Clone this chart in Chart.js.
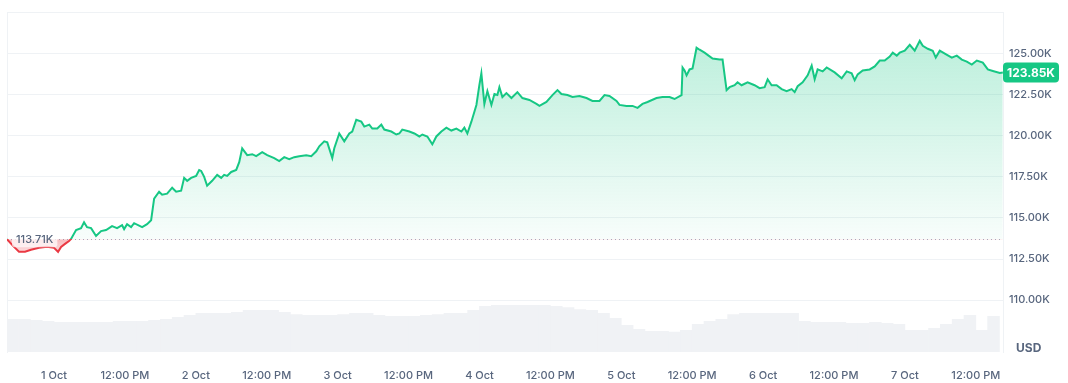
<!DOCTYPE html>
<html><head><meta charset="utf-8">
<script src="https://cdn.jsdelivr.net/npm/chart.js@4.4.1/dist/chart.umd.min.js"></script>
<style>html,body{margin:0;padding:0;background:#fff;}#wrap{width:1068px;height:383px;position:relative;}</style>
</head><body><div id="wrap"><canvas id="c"></canvas></div>
<script>
// time axis: hours since 1 Oct 00:00
const hours = [-7.96,-6.94,-5.93,-4.91,-3.90,-2.54,-1.19,0,0.68,1.19,1.86,2.54,2.88,3.73,4.57,5.08,5.59,6.27,7.11,7.96,8.81,9.82,10.67,11.52,11.86,12.36,13.04,13.55,14.91,15.75,16.43,16.94,17.78,18.29,19.14,19.99,20.66,21.51,22.02,22.53,23.20,24.05,24.56,24.90,25.41,25.91,26.76,27.61,28.29,28.79,29.30,29.98,30.83,31.34,31.84,32.69,33.54,34.21,35.23,36.08,37.26,38.11,38.96,39.80,40.65,41.50,42.68,43.53,44.38,44.89,45.73,46.24,47.09,47.43,48.27,49.12,49.97,50.47,51.15,52.00,52.51,53.35,53.86,54.71,55.39,55.89,57.08,57.93,58.43,58.94,60.13,60.98,61.82,62.33,63.18,64.02,64.70,65.55,66.40,67.24,68.09,68.94,69.44,69.95,70.63,71.14,71.48,71.98,72.32,72.83,73.34,74.02,74.53,75.03,75.37,75.88,76.56,77.41,78.42,79.27,80.45,81.64,82.15,83.33,84.35,85.20,85.87,86.89,87.74,88.92,90.11,91.12,92.31,93.16,94.00,95.19,95.70,96.88,97.90,98.75,99.59,100.44,101.96,102.98,104.17,105.01,106.20,106.37,106.71,107.05,107.55,108.06,108.74,109.25,110.09,110.77,111.45,112.64,113.14,113.82,114.33,115.18,115.68,116.36,117.38,118.56,119.41,120.26,120.77,121.44,122.29,123.14,123.98,124.83,125.34,125.85,126.69,127.54,128.22,128.73,129.23,130.08,130.76,132.11,133.30,134.15,134.99,135.50,136.01,136.86,138.04,138.89,139.74,140.58,141.43,141.94,142.62,143.12,143.97,144.82,145.66,146.51,147.02,147.87,148.71,149.22,149.90,150.75,151.93,152.78,153.63,154.47,155.32,156.17,157.18,158.03,158.88,160.06,160.57];
const prices = [113710,113300,112940,112940,113060,113180,113240,113180,112940,113240,113420,113600,113720,114260,114380,114740,114440,114380,113900,114200,114260,114500,114380,114560,114320,114620,114440,114680,114440,114620,114860,116180,116600,116420,116480,116840,116600,116660,117440,117260,117440,117560,117920,117860,117500,116960,117260,117620,117440,117620,117560,117800,117920,118400,119240,118820,118880,118760,119000,118820,118640,118460,118700,118580,118700,118760,118820,118760,119060,119360,119660,119600,118640,119240,120140,119660,120140,120260,120980,120860,120560,120680,120440,120440,120680,120380,120260,120080,120140,120380,120260,120140,119960,120080,119960,119480,119960,120260,120500,120320,120440,120260,120500,120140,120860,121460,121880,123080,123800,121940,122720,121880,122540,122480,122960,122360,122600,122300,122660,122300,122180,121940,121820,122060,122480,122780,122540,122480,122360,122420,122300,122120,122120,122480,122420,122120,121880,121820,121820,121700,121940,122060,122300,122360,122360,122240,122480,124160,123980,123680,124040,124100,125360,125240,125060,124880,124700,124640,124640,122780,122960,123080,123260,123080,123260,123080,122900,122960,123440,123080,123080,122840,122720,122840,122660,123020,123260,123680,124280,123440,124040,123920,124160,123860,123500,123920,123800,123380,123740,123980,124040,124220,124580,124580,124820,125060,124880,125060,125180,125540,125180,125780,125480,125300,125180,124760,125180,125000,124760,124880,124640,124520,124340,124580,124460,124040,123950,123820,123850];
const volHours = [-7,-5,-3,-1,1,3,5,7,9,11,13,15,17,19,21,23,25,27,29,31,33,35,37,39,41,43,45,47,49,51,53,55,57,59,61,63,65,67,69,71,73,75,77,79,81,83,85,87,89,91,93,95,97,99,101,103,105,107,109,111,113,115,117,119,121,123,125,127,129,131,133,135,137,139,141,143,145,147,149,151,153,155,157,159];
const volumesB = [2.36,2.36,2.29,2.21,2.14,2.14,2.14,2.14,2.14,2.21,2.21,2.21,2.29,2.36,2.50,2.64,2.79,2.79,2.79,2.86,3.00,3.00,3.00,2.86,2.71,2.64,2.64,2.64,2.71,2.79,2.79,2.64,2.57,2.57,2.57,2.64,2.71,2.79,2.79,3.00,3.29,3.36,3.36,3.36,3.36,3.36,3.29,3.21,3.07,3.00,2.79,2.43,1.93,1.64,1.50,1.50,1.43,1.57,2.00,2.21,2.36,2.71,2.79,2.79,2.79,2.79,2.79,2.21,2.14,2.14,2.14,2.07,2.07,2.14,2.07,2.00,1.57,1.57,1.71,2.00,2.36,2.64,1.57,2.57];
const xTickHours = [0,12,24,36,48,60,72,84,96,108,120,132,144,156];
const dayLabels = ['1 Oct','2 Oct','3 Oct','4 Oct','5 Oct','6 Oct','7 Oct'];
const yTickValues = [110000,112500,115000,117500,120000,122500,125000,127500];
const BASELINE = 113710;
const LAST_PRICE = 123850;

const GREEN = '#16c784', RED = '#ea3943', TXT = '#58667e', GRID = '#eff2f5';
Chart.defaults.font.family = 'Inter, "Noto Sans", sans-serif';

function lineGrad(c){
  const ca=c.chartArea; if(!ca) return GREEN;
  const y=c.scales.y.getPixelForValue(BASELINE);
  const f=Math.min(1,Math.max(0,(y-ca.top)/(ca.bottom-ca.top)));
  const g=c.ctx.createLinearGradient(0,ca.top,0,ca.bottom);
  g.addColorStop(0,GREEN);g.addColorStop(f,GREEN);g.addColorStop(f,RED);g.addColorStop(1,RED);
  return g;
}
function aboveGrad(c){
  const ca=c.chartArea; if(!ca) return 'rgba(22,199,132,0.15)';
  const y=c.scales.y.getPixelForValue(BASELINE);
  const g=c.ctx.createLinearGradient(0,ca.top,0,y);
  g.addColorStop(0,'rgba(22,199,132,0.32)');g.addColorStop(1,'rgba(22,199,132,0.03)');
  return g;
}
function belowGrad(c){
  const ca=c.chartArea; if(!ca) return 'rgba(234,57,67,0.15)';
  const y=c.scales.y.getPixelForValue(BASELINE);
  const g=c.ctx.createLinearGradient(0,y,0,y+22);
  g.addColorStop(0,'rgba(234,57,67,0.35)');g.addColorStop(1,'rgba(234,57,67,0.05)');
  return g;
}

const overlay = {
  id:'overlay',
  beforeDatasetsDraw(chart){
    const {ctx,chartArea:ca}=chart; const y=chart.scales.y.getPixelForValue(BASELINE);
    ctx.save();ctx.strokeStyle='#a6b0c3';ctx.lineWidth=1;ctx.setLineDash([1,3]);
    ctx.beginPath();ctx.moveTo(ca.left,Math.round(y)+0.5);ctx.lineTo(ca.right,Math.round(y)+0.5);ctx.stroke();ctx.restore();
  },
  afterDatasetsDraw(chart){
    const {ctx,chartArea:ca}=chart; const y=chart.scales.y.getPixelForValue(BASELINE);
    ctx.save();
    ctx.font='500 11px Inter';
    const t=(BASELINE/1000).toFixed(2)+'K'; const w=ctx.measureText(t).width;
    ctx.fillStyle='rgba(255,255,255,0.7)';
    ctx.beginPath();ctx.roundRect(ca.left+5,y-8,w+8,16,3);ctx.fill();
    ctx.fillStyle=TXT;ctx.textBaseline='middle';ctx.textAlign='left';
    ctx.fillText(t,ca.left+9,y+1);
    ctx.restore();
  },
  afterDraw(chart){
    const {ctx,chartArea:ca}=chart; const y=chart.scales.y.getPixelForValue(LAST_PRICE);
    ctx.save();
    ctx.fillStyle=GREEN;ctx.beginPath();ctx.roundRect(ca.right,y-10,56,20,4);ctx.fill();
    ctx.fillStyle='#fff';ctx.font='700 12px Inter';ctx.textAlign='center';ctx.textBaseline='middle';
    ctx.fillText((LAST_PRICE/1000).toFixed(2)+'K',ca.right+28,y+1);
    ctx.fillStyle=TXT;ctx.font='700 12px Inter';ctx.textAlign='left';
    ctx.fillText('USD',ca.right+13,ca.bottom-4);
    ctx.restore();
  }
};

new Chart(document.getElementById('c'),{
  type:'line',
  data:{datasets:[
    {type:'line',order:0,data:hours.map((h,i)=>({x:h,y:prices[i]})),yAxisID:'y',
     borderColor:ctx=>lineGrad(ctx.chart),borderWidth:2,pointRadius:0,tension:0,
     fill:{value:BASELINE,above:ctx=>aboveGrad(ctx.chart),below:ctx=>belowGrad(ctx.chart)}},
    {type:'bar',order:1,data:volHours.map((h,i)=>({x:h,y:volumesB[i]})),yAxisID:'yVol',
     backgroundColor:'#f0f2f5',borderWidth:0,barPercentage:1,categoryPercentage:1}
  ]},
  options:{
    responsive:true,maintainAspectRatio:false,animation:false,
    layout:{padding:{left:7,top:9,right:0,bottom:0}},
    plugins:{legend:{display:false},tooltip:{enabled:false}},
    scales:{
      x:{type:'linear',min:-7.96,max:160.6,offset:false,
        afterBuildTicks:s=>{s.ticks=xTickHours.map(v=>({value:v}));},
        afterFit:s=>{s.height=31;},
        grid:{display:false,offset:false},border:{display:false},
        ticks:{autoSkip:false,maxRotation:0,padding:9,color:TXT,font:{size:11,weight:'500'},
          callback:v=>(v%24===0?dayLabels[v/24]:'12:00 PM')}},
      y:{position:'right',min:106840,max:127500,
        afterBuildTicks:s=>{s.ticks=yTickValues.map(v=>({value:v}));},
        afterFit:s=>{s.width=65;},
        grid:{color:GRID,drawTicks:false},border:{display:true,color:GRID},
        ticks:{padding:6,color:TXT,font:{size:11,weight:'500'},
          callback:v=>(v>=127500?'':(v/1000).toFixed(2)+'K')}},
      yVol:{position:'left',min:0,max:24.5,display:true,
        afterFit:s=>{s.width=0;},
        grid:{display:false,drawTicks:false},border:{display:true,color:GRID},ticks:{display:false}}
    }
  },
  plugins:[overlay]
});
</script></body></html>
